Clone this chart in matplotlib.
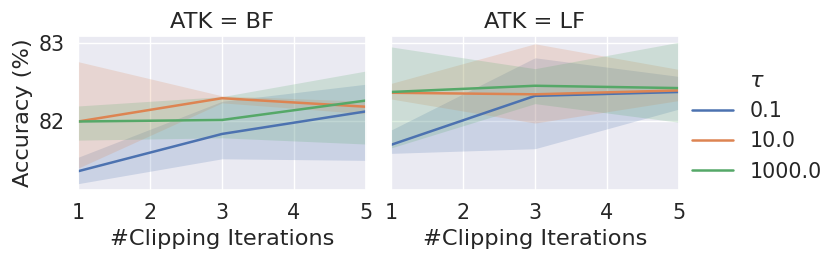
import matplotlib
matplotlib.use('Agg')
import matplotlib.pyplot as plt
import seaborn as sns
import numpy as np

sns.set_theme(style='darkgrid', font_scale=1.35)

iters = [1, 3, 5]
taus = ['0.1', '10.0', '1000.0']
attacks = ['BF', 'LF']

# mean accuracy, per attack, per tau
mean = {
    'BF': {'0.1': [81.35, 81.83, 82.12],
           '10.0': [81.99, 82.29, 82.18],
           '1000.0': [81.99, 82.01, 82.26]},
    'LF': {'0.1': [81.69, 82.32, 82.37],
           '10.0': [82.36, 82.34, 82.39],
           '1000.0': [82.37, 82.45, 82.42]},
}
# confidence band (lower, upper)
low = {
    'BF': {'0.1': [81.19, 81.51, 81.49],
           '10.0': [81.39, 82.23, 82.09],
           '1000.0': [81.75, 81.78, 81.70]},
    'LF': {'0.1': [81.58, 81.64, 82.15],
           '10.0': [82.28, 81.97, 82.26],
           '1000.0': [81.65, 82.22, 81.98]},
}
high = {
    'BF': {'0.1': [81.53, 82.25, 82.47],
           '10.0': [82.76, 82.32, 82.25],
           '1000.0': [82.19, 82.31, 82.64]},
    'LF': {'0.1': [81.88, 82.81, 82.57],
           '10.0': [82.48, 82.99, 82.66],
           '1000.0': [82.95, 82.67, 83.01]},
}

colors = sns.color_palette()[:3]

fig, axes = plt.subplots(1, 2, figsize=(8.31, 2.63), dpi=100, sharey=True)
fig.subplots_adjust(left=0.094, right=0.817, top=0.863, bottom=0.278, wspace=0.087)

for ax, atk in zip(axes, attacks):
    for tau, c in zip(taus, colors):
        ax.fill_between(iters, low[atk][tau], high[atk][tau], color=c, alpha=0.2, linewidth=0)
        ax.plot(iters, mean[atk][tau], color=c, linewidth=1.8, label=tau)
    ax.set_title('ATK = ' + atk)
    ax.set_xlim(1, 5)
    ax.set_xticks([1, 2, 3, 4, 5])
    ax.set_xlabel('#Clipping Iterations')

axes[0].set_ylim(81.11, 83.09)
axes[0].set_yticks([82, 83])
axes[0].set_ylabel('Accuracy (%)')

handles, labels = axes[0].get_legend_handles_labels()
fig.legend(handles, labels, title=r'$\tau$', loc='center left',
           bbox_to_anchor=(0.81, 0.52), frameon=False)

fig.savefig('out.png', dpi=100)
